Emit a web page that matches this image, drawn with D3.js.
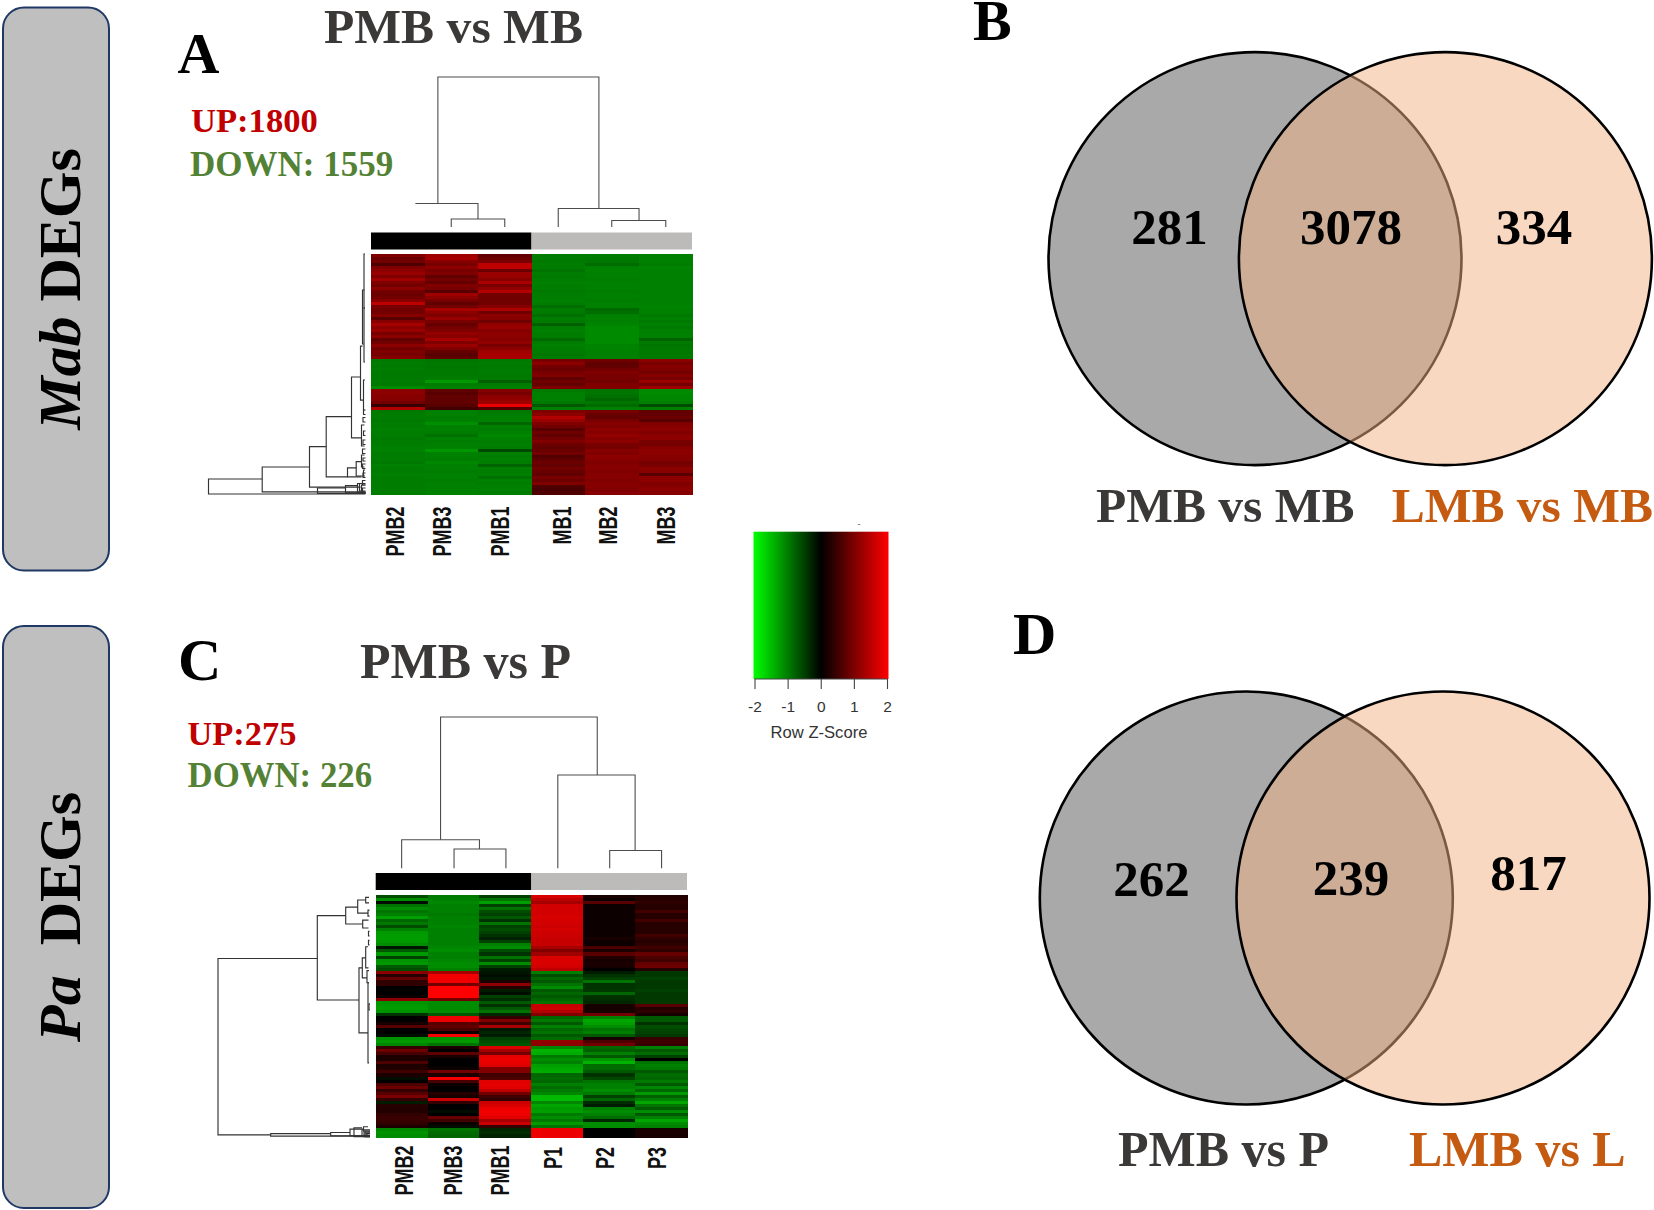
<!DOCTYPE html>
<html><head><meta charset="utf-8">
<script src="https://cdnjs.cloudflare.com/ajax/libs/d3/7.8.5/d3.min.js"></script>
<style>html,body{margin:0;padding:0;background:#fff}svg{display:block}</style>
</head><body><svg id="c" width="1654" height="1210"></svg>
<script>
// ---------- DATA ----------
const colsA = ["PMB2","PMB3","PMB1","MB1","MB2","MB3"];
const colsC = ["PMB2","PMB3","PMB1","P1","P2","P3"];
const legendTicks = [-2,-1,0,1,2];

// Panel A z-scores per heat-map column (80 rows, top to bottom)
const zA_PMB2 = [
 1.0,.85,.9,.6,1.0,1.1,1.2,1.0,1.25,1.0,
 .9,1.1,.9,.85,.9,1.05,1.5,.95,.9,.9,
 1.05,.7,1.05,1.3,1.1,1.2,.95,1.1,.75,.9,
 1.1,.9,1.0,.95,1.05,-.95,-.97,-.95,-.97,-.95,
 -.95,-.95,-.97,-.95,-1.1,1.1,1.1,1.05,1.05,.9,
 .45,1.4,-.95,-.97,-.97,-.95,-.97,-.97,-1.0,-.97,
 -.97,-.95,-.97,-.97,-1.0,-1.0,-.97,-.97,-.97,-.95,
 -1.0,-.97,-.97,-1.0,-.97,-.97,-.97,-.97,-.97,-.97];
const zA_PMB3 = [
 1.25,1.3,1.05,.95,1.1,.95,1.0,.75,.9,.8,
 1.0,.95,.7,1.25,1.1,.95,.75,.9,1.3,1.1,
 1.0,1.2,.95,.8,.9,1.0,1.15,1.05,1.3,1.0,
 1.2,1.0,.8,.7,.75,-.92,-.95,-.93,-.95,-.95,
 -.95,-.97,-1.2,-.97,-1.0,.75,.7,.78,.75,.75,
 .7,.5,-1.0,-1.0,-.97,-1.0,-1.12,-1.0,-1.0,-.97,
 -.88,-1.0,-.97,-1.0,-1.0,-1.18,-1.0,-1.0,-.97,-1.06,
 -1.0,-1.0,-.97,-1.0,-1.0,-.97,-1.0,-1.0,-1.0,-1.0];
const zA_PMB1 = [
 .75,.85,.95,1.5,1.5,.85,1.2,1.2,1.05,1.35,
 .95,1.15,1.4,.9,.88,.88,.9,1.05,1.35,.88,
 1.1,1.05,.88,1.15,1.2,1.05,1.1,1.1,1.05,1.15,
 .95,1.1,1.25,1.3,1.3,-.95,-.97,-.95,-.97,-.97,
 -.95,-.95,-.75,-.97,-1.0,1.05,.95,1.1,1.15,1.25,
 1.85,.65,-.95,-.97,-1.0,-1.0,-.8,-1.0,-.97,-1.0,
 -1.06,-1.0,-.97,-1.0,-.97,-.55,-1.0,-.97,-1.0,-.97,
 -.78,-1.0,-.97,-1.0,-.88,-1.0,-.97,-1.0,-1.0,-.97];
const zA_MB1 = [
 -.97,-.97,-.95,-.97,-.97,-.9,-.97,-.95,-.97,-1.0,
 -.97,-.97,-.95,-.97,-.97,-1.0,-.97,-.86,-.97,-.95,
 -.86,-.97,-.95,-.76,-.97,-1.0,-.97,-.97,-.82,-.97,
 -1.0,-.97,-.97,-.93,-.97,.95,1.1,.9,.85,.95,
 1.0,.75,.88,.78,1.0,-.95,-1.0,-1.0,-1.0,-.95,
 -.7,-1.0,1.0,1.1,1.4,1.2,1.0,.9,.7,.88,
 .75,.9,1.0,.85,.78,.82,.9,.65,.75,.85,
 .78,.9,.82,.75,.95,.85,1.0,.62,.58,.62];
const zA_MB2 = [
 -.97,-.95,-.93,-.85,-1.0,-1.02,-1.0,-1.0,-.97,-1.0,
 -1.0,-1.0,-.97,-1.0,-1.0,-.97,-1.0,-1.0,-.82,-.86,
 -1.0,-1.02,-1.0,-1.03,-1.08,-1.08,-1.08,-1.08,-1.08,-1.08,
 -1.03,-1.03,-1.0,-1.0,-1.0,.88,.75,.78,.9,1.0,
 .95,.95,.9,1.0,1.0,-.92,-.92,-.88,-.8,-.92,
 -.85,-1.0,.95,.82,.78,.95,1.05,1.0,1.1,1.05,
 1.15,1.05,1.1,.95,.92,1.05,1.0,1.1,1.05,1.0,
 1.05,1.05,1.0,1.05,1.05,1.0,1.05,1.05,1.0,1.05];
const zA_MB3 = [
 -1.0,-1.0,-1.0,-.97,-1.03,-1.0,-1.0,-1.0,-1.0,-1.0,
 -1.0,-1.0,-1.0,-1.0,-1.0,-1.0,-1.0,-1.03,-1.0,-1.0,
 -.95,-1.0,-.95,-1.0,-.95,-1.0,-1.0,-1.0,-.78,-.95,
 -.92,-.95,-.95,-.95,-.95,1.1,.95,1.05,1.0,.92,
 1.05,.95,1.2,.92,1.25,-1.08,-1.08,-1.05,-1.05,-1.0,
 -.6,-1.0,.75,.78,.85,.7,1.0,1.05,1.1,1.0,
 1.1,1.1,.95,.92,1.05,1.1,1.1,1.05,1.05,.92,
 .95,1.1,1.05,.7,1.1,1.1,1.0,1.05,1.1,1.05];

// Panel C z-scores per heat-map column (80 rows, top to bottom)
const zC_PMB2 = [
 -.6,-1.1,-.1,-.9,-1.1,-.9,-1.0,-1.25,-.8,-.95,
 -.6,-1.0,-1.2,-1.22,-1.22,-1.2,-1.1,-.15,-.7,-1.2,
 -.5,-1.15,-1.2,-.7,-.6,1.1,.3,.8,.35,.4,
 .05,-.05,.05,.1,1.1,-1.15,-1.2,-1.22,-1.15,-.4,
 .05,.05,.15,.7,.05,-.05,-.1,-1.15,-1.2,-1.05,
 .45,.85,.55,.2,.2,.6,.2,.25,.5,.2,
 -.1,-.05,.6,.85,.4,.7,.95,.4,-.2,.3,
 .25,.25,.4,.45,.45,.4,.2,-1.05,-1.15,-1.1];
const zC_PMB3 = [
 -.95,-1.0,-1.05,-1.0,-1.0,-1.0,-.95,-1.0,-1.0,-1.0,
 -1.05,-1.0,-1.0,-1.0,-1.0,-1.0,-1.0,-1.05,-1.1,-1.0,
 -1.0,-1.05,-1.1,-1.1,-1.0,1.3,1.9,1.9,1.9,.9,
 2.0,2.0,2.0,2.0,.9,-1.1,-1.1,-1.1,-1.1,-.7,
 1.85,1.85,.7,.75,.6,.1,1.95,-1.15,-1.2,-.9,
 .2,.05,.75,.15,.05,.05,.05,.1,.9,.2,
 1.95,.55,.1,.05,.05,.3,.15,1.6,.4,-.05,
 -.05,-.1,.0,.8,.5,.1,-.1,-.9,-.85,-.8];
const zC_PMB1 = [
 -.5,-.9,-1.25,-.5,-.9,-.6,-.5,-.7,-.4,-.9,
 -.5,-.6,-.5,-.4,-.25,-.5,-1.0,-1.1,-.6,-.4,
 -.9,-.5,-1.1,-.5,-.2,-.15,-.1,-.15,.2,1.1,
 .25,-.2,-.1,-.5,-.35,-.7,-.4,-.7,-.9,-.3,
 .4,1.0,.5,1.3,-.15,-.3,-.2,-.5,-.6,-.7,
 1.75,1.3,.9,1.8,1.85,1.8,1.75,1.0,1.0,.5,
 .6,1.75,1.8,1.75,1.5,.9,.5,.4,1.6,1.7,
 1.85,1.9,1.85,1.75,1.3,1.6,.4,-.3,-.35,-.25];
const zC_P1 = [
 1.7,1.5,1.3,1.65,1.65,1.65,1.65,1.7,1.65,1.65,
 1.6,1.65,1.6,1.6,1.55,1.55,1.55,1.3,1.0,1.25,
 1.7,1.7,1.7,1.65,1.5,-1.0,-.6,-.8,-.7,-.9,
 -1.1,-.7,-.8,-.7,-.8,-.9,1.55,1.6,1.4,1.0,
 -.8,-.95,-.7,-1.0,-.8,-.9,-.7,-.85,1.15,1.1,
 -1.05,-1.4,-1.35,-.95,-1.1,-1.0,-1.25,-1.3,-1.35,-.8,
 -.85,-.8,-1.0,-.85,-.95,-1.05,-1.45,-1.45,-1.05,-1.3,
 -1.2,-1.25,-.95,-1.1,-.95,-1.2,-.9,1.85,1.85,1.85];
const zC_P2 = [
 .15,.1,.7,.12,.12,.12,.1,.12,.12,.12,
 .12,.1,.12,.12,.15,.12,.1,.6,.2,.7,
 .25,.15,.2,.15,.05,-.2,-.4,-.5,-.9,-.4,
 -.4,-.45,-.8,-.4,-.35,-.3,.15,.15,.15,.9,
 -1.0,-1.3,-1.25,-1.1,-.9,-1.0,-.7,.15,.6,.9,
 -.8,-.75,-1.0,-.7,-1.15,-1.4,-.85,-.85,-.7,-.4,
 -.55,-.9,-1.0,-1.0,-1.1,-.95,-.5,-.8,-.35,-.2,
 -1.0,-1.1,-1.0,-.85,-.3,-1.1,-1.1,.0,.05,.05];
const zC_P3 = [
 .25,.3,.35,.3,.3,.5,.3,.3,.5,.3,
 .3,.3,.3,.5,.35,.3,.35,.5,.35,.8,
 .6,.5,.8,.85,.3,-.45,-.45,-.5,-.45,-.45,
 -.45,-.5,-.45,-.45,-.45,-.45,.7,.3,.35,.15,
 -.7,-.7,-.4,-.6,-.55,-.5,-.45,.45,.5,.45,
 -1.0,-.7,-.85,-.5,-.05,-.9,-1.0,-.95,-.7,-.85,
 -.8,-.95,-.7,-1.05,-.8,-1.2,-.75,-1.0,-1.3,-.9,
 -.7,-1.1,-.7,-1.0,-1.3,-1.1,-1.0,.15,.2,.15];

// Dendrogram merges: [height, pos1, childHeight1, pos2, childHeight2]
const colDendroA = [[150,1.25,23.5,4.26,18.5],[23.5,.84,23,2,8],[8,1.5,0,2.5,0],[18.5,3.5,0,5.01,6.5],[6.5,4.5,0,5.51,0]];
const colDendroC = [[151.3,1.25,28.6,4.27,93.3],[28.6,.5,0,2,19.3],[19.3,1.51,0,2.51,0],[93.3,3.51,0,5,17.8],[17.8,4.51,0,5.51,0]];
const rowDendroA = [
 [157,75,103.3,80,0],[103.3,71,56,79.3,0],[56,64.2,39.3,77.7,5],[39.3,54.2,14,74.3,18],
 [14,41,5,61.3,4],[5,30.7,3,48.7,2],[3,12,1,30,1.5],[1.5,0,.5,18,.5],[1.5,18,.5,36,.5],[2,42,.5,52,1],
 [4,57,1,64,1],[18,71.3,9.3,74.3,4],[9.3,69.2,4,74,2],[4,67,1,71,1],[2,72,.5,74,.5],
 [48,78,20,79.8,0],[20,77.2,8,79.6,0],[8,76.5,2,79.4,0],[2,52,0,53.5,0],[2.5,54.5,0,56,0],[2,59,0,60.5,0],[2.5,62,0,63.5,0],
 [3,65,0,66.5,0],[2.5,68,0,69,0],[3,70,0,71.5,0],[2.5,73,0,74.5,0],[3,75.5,0,77,0],[6,76.5,0,79,0],[4,77,0,79.5,0],[3,78,0,79.7,0]];
const rowDendroC = [
 [152,21,52.7,79.3,99.3],[52.7,6.8,24.3,34.7,11],[24.3,4,12.3,9.6,7.3],[12.3,1.65,4.3,6,2],[7.3,8.3,1.5,10.9,1.5],
 [4.3,.8,1,2.6,1],[2,5,.5,7,.5],[11,24.1,7.7,45.6,2],[7.7,20.8,4.3,27.4,3],[4.3,17.1,2,24.1,1.5],
 [2,29,1,55.5,1],[3,25,1,29,1],[1.5,12,.5,13.5,.5],[1.5,15,.5,16.5,.5],[1,36,0,38,0],
 [99.3,78.9,39.3,79.7,0],[39.3,78.5,20,79.6,0],[20,77.4,6,79.6,0],[16,77,8,79.9,0],[8,77.6,0,79.8,0],[6,78,0,79.9,0],[5,78.4,0,79.7,0],[4,78.8,0,79.9,0],[3,79,0,79.8,0],[6.5,76.6,2,78,0]];

// ---------- LAYOUT ----------
const svg = d3.select("#c");
const defs = svg.append("defs");
defs.append("filter").attr("id","soft").attr("x","-2%").attr("y","-2%").attr("width","104%").attr("height","104%")
  .append("feGaussianBlur").attr("stdDeviation","0.35 0.6");
const serif = "'Liberation Serif','Times New Roman',serif";
const sans = "'Liberation Sans',Arial,sans-serif";
const zColor = d3.scaleLinear().domain([-2,0,2]).range(["#00ff00","#000000","#ff0000"]);

function txt(s,x,y,size,fill,opts={}){
  const t = svg.append("text").attr("x",x).attr("y",y).attr("font-family",opts.family||serif)
    .attr("font-size",size).attr("font-weight",opts.weight||"bold").attr("fill",fill)
    .attr("text-anchor",opts.anchor||"start").text(s);
  if(opts.len) t.attr("textLength",opts.len).attr("lengthAdjust","spacingAndGlyphs");
  return t;
}
function pane(y,h,parts){
  svg.append("rect").attr("x",3).attr("y",y).attr("width",106).attr("height",h).attr("rx",21)
    .attr("fill","#bfbfbf").attr("stroke","#1f3864").attr("stroke-width",2);
  const t = svg.append("text").attr("transform",`translate(79.5,${y+h/2}) rotate(-90)`)
    .attr("text-anchor","middle").attr("font-family",serif).attr("font-size",60).attr("font-weight","bold")
    .attr("fill","#000").attr("xml:space","preserve");
  parts.forEach(p=>t.append("tspan").attr("font-style",p[1]?"italic":"normal").text(p[0]));
}
pane(7.5,563,[["Mab",true],[" DEGs",false]]);
pane(626,582,[["Pa",true],["\u00a0\u00a0DEGs",false]]);

function panel(cfg){
  const n = cfg.z[0].length;
  const xBand = d3.scaleBand().domain(cfg.cols).range(cfg.x);
  const yBand = d3.scaleBand().domain(d3.range(n)).range(cfg.y);
  const xCol = d3.scaleLinear().domain([0,6]).range(cfg.x);
  const yRow = d3.scaleLinear().domain([0,n]).range(cfg.y);
  const heat = svg.append("g").attr("filter","url(#soft)").attr("shape-rendering","crispEdges");
  cfg.cols.forEach((c,j)=>{
    heat.selectAll(null).data(cfg.z[j]).join("rect")
      .attr("x",xBand(c)).attr("width",xBand.bandwidth()+.5)
      .attr("y",(d,i)=>yBand(i)).attr("height",yBand.bandwidth()+.5)
      .attr("fill",d=>zColor(d));
  });
  // side colour bar
  [[0,3,"#000000"],[3,6,"#bdbaba"]].forEach(b=>{
    svg.append("rect").attr("x",xCol(b[0])).attr("width",xCol(b[1])-xCol(b[0]))
      .attr("y",cfg.bar[0]).attr("height",cfg.bar[1]-cfg.bar[0]).attr("fill",b[2]);
  });
  // column dendrogram
  const yH = d3.scaleLinear().domain(cfg.colH).range(cfg.colHR);
  const line = d3.path;
  const gc = svg.append("g").attr("fill","none").attr("stroke","#4d4d4d").attr("stroke-width",1.1);
  gc.selectAll("path").data(cfg.colDendro).join("path").attr("d",d=>{
    const p=line();p.moveTo(xCol(d[1]),yH(d[2]));p.lineTo(xCol(d[1]),yH(d[0]));
    p.lineTo(xCol(d[3]),yH(d[0]));p.lineTo(xCol(d[3]),yH(d[4]));return p.toString();});
  // row dendrogram
  const xH = d3.scaleLinear().domain(cfg.rowH).range(cfg.rowHR);
  const gr = svg.append("g").attr("fill","none").attr("stroke","#333").attr("stroke-width",1.15);
  gr.selectAll("path").data(cfg.rowDendro).join("path").attr("d",d=>{
    const p=line();p.moveTo(xH(d[2]),yRow(d[1]));p.lineTo(xH(d[0]),yRow(d[1]));
    p.lineTo(xH(d[0]),yRow(d[3]));p.lineTo(xH(d[4]),yRow(d[3]));return p.toString();});
  // column labels
  svg.append("g").selectAll("text").data(cfg.cols).join("text")
    .attr("transform",(d,i)=>`translate(${cfg.labelX[i]+9},${cfg.labelTop[i]}) rotate(-90) scale(1,1.38)`)
    .attr("text-anchor","end").attr("font-family",sans).attr("font-size",18).attr("font-weight","bold")
    .attr("fill","#111").text(d=>d);
}
panel({cols:colsA,z:[zA_PMB2,zA_PMB3,zA_PMB1,zA_MB1,zA_MB2,zA_MB3],x:[371,692],y:[254,494],bar:[232.5,249.5],
  colDendro:colDendroA,colH:[0,150],colHR:[227,77],rowDendro:rowDendroA,rowH:[0,157],rowHR:[365.5,208.5],
  labelX:[394.5,442,500,562,607.6,665.6],labelTop:[506.5,506.5,506.5,506.5,506.5,506.5]});
panel({cols:colsC,z:[zC_PMB2,zC_PMB3,zC_PMB1,zC_P1,zC_P2,zC_P3],x:[375.7,687],y:[895,1137],bar:[873,890],
  colDendro:colDendroC,colH:[0,151.3],colHR:[868.3,717],rowDendro:rowDendroC,rowH:[0,152],rowHR:[370,218],
  labelX:[403.5,452.5,500,552.7,605,656.6],labelTop:[1145.5,1145.5,1145.5,1147,1147,1147]});

// Titles and panel letters
txt("A",177.5,73,58,"#000");
txt("PMB vs MB",324,42.5,47.5,"#3b3838",{len:259});
txt("UP:1800",191,132,34.6,"#c00000");
txt("DOWN: 1559",190,176,35,"#548235");
txt("C",178,680,60,"#000");
txt("PMB vs P",360,678,50,"#3b3838");
txt("UP:275",187.5,745,34.4,"#c00000");
txt("DOWN: 226",187.5,787,34.8,"#548235");
txt("B",973,40,58,"#000");
txt("D",1013,654,60,"#000");

// Colour key
const legX = d3.scaleLinear().domain([-2,2]).range([754.5,887]);
const grad = defs.append("linearGradient").attr("id","key").attr("x1",0).attr("x2",1).attr("y1",0).attr("y2",0);
[-2,0,2].forEach((v,i)=>grad.append("stop").attr("offset",i/2).attr("stop-color",zColor(v)));
svg.append("rect").attr("x",753.5).attr("y",531.7).attr("width",135).attr("height",147.3).attr("fill","url(#key)");
const axis = d3.axisBottom(legX).tickValues(legendTicks).tickSize(10).tickPadding(12).tickFormat(d=>String(d));
const axG = svg.append("g").attr("transform","translate(0,679)").call(axis);
axG.selectAll("text").attr("font-family",sans).attr("font-size",15.5).attr("fill","#333");
axG.selectAll("line").attr("stroke","#444").attr("stroke-width",1.1);
axG.select(".domain").attr("stroke","#444").attr("stroke-width",1.1).attr("d","M754.5,0H887");
txt("Row Z-Score",819,737.5,16.6,"#333",{family:sans,weight:"normal",anchor:"middle"});
txt("-",859,527,9,"#555",{family:sans,weight:"normal",anchor:"middle"});

// Venn diagrams
const vennLeft = [281,262], vennBoth = [3078,239], vennRight = [334,817];
const vennNames = [["PMB vs MB","LMB vs MB"],["PMB vs P","LMB vs L"]];
function venn(k,cfg){
  svg.append("circle").attr("cx",cfg.l).attr("cy",cfg.cy).attr("r",206.5).attr("fill","#a9a9a9").attr("stroke","#000").attr("stroke-width",2.6);
  svg.append("circle").attr("cx",cfg.r).attr("cy",cfg.cy).attr("r",206.5).attr("fill","rgb(241,177,129)").attr("fill-opacity",.5).attr("stroke","none");
  svg.append("circle").attr("cx",cfg.r).attr("cy",cfg.cy).attr("r",206.5).attr("fill","none").attr("stroke","#000").attr("stroke-width",2.6);
  txt(vennLeft[k],cfg.n[0][0],cfg.n[0][1],51,"#000",{anchor:"middle"});
  txt(vennBoth[k],cfg.n[1][0],cfg.n[1][1],51,"#000",{anchor:"middle"});
  txt(vennRight[k],cfg.n[2][0],cfg.n[2][1],51,"#000",{anchor:"middle"});
  txt(vennNames[k][0],cfg.t[0][0],cfg.t[0][1],cfg.fs,"#3b3838");
  txt(vennNames[k][1],cfg.t[1][0],cfg.t[1][1],cfg.fs,"#c55a11");
}
venn(0,{l:1255,r:1445.4,cy:258.6,fs:49.5,n:[[1169.5,244],[1351,244],[1534,244]],t:[[1096,522],[1391.7,522]]});
venn(1,{l:1246.3,r:1443,cy:898,fs:50,n:[[1151.5,896],[1351,894.8],[1528.5,890]],t:[[1118,1165.6],[1409,1165.6]]});
</script></body></html>
